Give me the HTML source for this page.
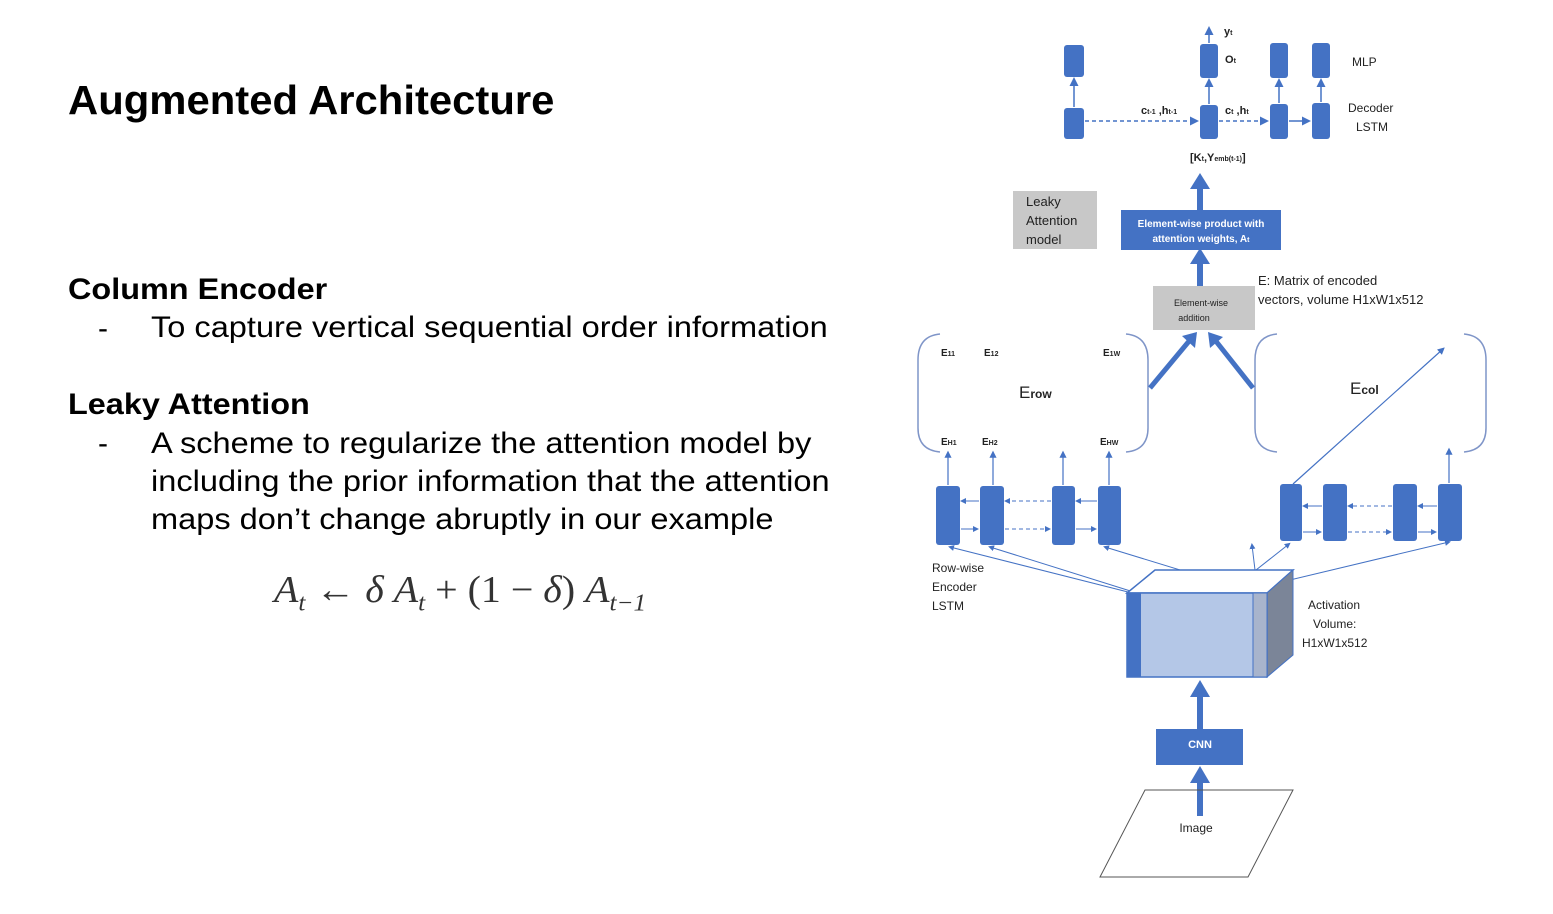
<!DOCTYPE html>
<html><head><meta charset="utf-8"><style>
html,body{margin:0;padding:0;background:#fff;}
body{width:1553px;height:914px;position:relative;overflow:hidden;font-family:"Liberation Sans",sans-serif;color:#000;}
.t{position:absolute;white-space:nowrap;transform-origin:0 0;}
</style></head><body>
<div class="t" style="left:68px;top:77px;font-size:41px;font-weight:bold;transform:scaleX(1.02);">Augmented Architecture</div>
<div class="t" style="left:68px;top:273px;font-size:30px;font-weight:bold;transform:scaleX(1.08);">Column Encoder</div>
<div class="t" style="left:98px;top:312px;font-size:30px;">-</div>
<div class="t" style="left:151px;top:311px;font-size:30px;transform:scaleX(1.085);">To capture vertical sequential order information</div>
<div class="t" style="left:68px;top:388px;font-size:30px;font-weight:bold;transform:scaleX(1.08);">Leaky Attention</div>
<div class="t" style="left:98px;top:427px;font-size:30px;">-</div>
<div class="t" style="left:151px;top:425px;font-size:30px;line-height:38px;transform:scaleX(1.085);">A scheme to regularize the attention model by<br>including the prior information that the attention<br>maps don’t change abruptly in our example</div>
<div class="t" style="left:274px;top:568px;font-size:38px;font-family:'Liberation Serif',serif;color:#333;transform:scaleX(1.05);"><i>A<sub style="font-size:24px">t</sub></i> ← <i>δ A<sub style="font-size:24px">t</sub></i> + (1 − <i>δ</i>) <i>A<sub style="font-size:24px">t−1</sub></i></div>

<svg width="1553" height="914" style="position:absolute;left:0;top:0" font-family="Liberation Sans, sans-serif">
<defs>
<marker id="b" markerWidth="6" markerHeight="6" refX="4" refY="3" orient="auto"><path d="M0,0 L6,3 L0,6 z" fill="#4472C4"/></marker>
</defs>
<g fill="#4472C4">
<rect x="1064" y="45" width="20" height="32" rx="3"/>
<rect x="1064" y="108" width="20" height="31" rx="3"/>
<rect x="1200" y="44" width="18" height="34" rx="3"/>
<rect x="1200" y="105" width="18" height="34" rx="3"/>
<rect x="1270" y="43" width="18" height="35" rx="3"/>
<rect x="1270" y="104" width="18" height="35" rx="3"/>
<rect x="1312" y="43" width="18" height="35" rx="3"/>
<rect x="1312" y="103" width="18" height="36" rx="3"/>
</g>
<g stroke="#4472C4" stroke-width="1.5" fill="none">
<line x1="1074" y1="107" x2="1074" y2="80" marker-end="url(#b)"/>
<line x1="1209" y1="104" x2="1209" y2="81" marker-end="url(#b)"/>
<line x1="1279" y1="103" x2="1279" y2="81" marker-end="url(#b)"/>
<line x1="1321" y1="102" x2="1321" y2="81" marker-end="url(#b)"/>
<line x1="1209" y1="43" x2="1209" y2="29" marker-end="url(#b)"/>
<line x1="1085" y1="121" x2="1196" y2="121" stroke-dasharray="4,3" marker-end="url(#b)"/>
<line x1="1219" y1="121" x2="1266" y2="121" stroke-dasharray="4,3" marker-end="url(#b)"/>
<line x1="1289" y1="121" x2="1308" y2="121" marker-end="url(#b)"/>
</g>
<g font-size="11" font-weight="bold" fill="#222">
<text x="1224" y="35">y<tspan font-size="7">t</tspan></text>
<text x="1225" y="63">O<tspan font-size="7">t</tspan></text>
<text x="1141" y="114">c<tspan font-size="7">t-1</tspan> ,h<tspan font-size="7">t-1</tspan></text>
<text x="1225" y="114">c<tspan font-size="7">t</tspan> ,h<tspan font-size="7">t</tspan></text>
<text x="1190" y="161">[K<tspan font-size="7">t</tspan>,Y<tspan font-size="7">emb(t-1)</tspan>]</text>
</g>
<g font-size="12" fill="#222">
<text x="1352" y="66">MLP</text>
<text x="1348" y="112">Decoder</text>
<text x="1356" y="131">LSTM</text>
</g>
<g fill="#4472C4">
<rect x="1197" y="186" width="6" height="25"/><path d="M1190,189 L1200,173 L1210,189 z"/>
<rect x="1197" y="262" width="6" height="25"/><path d="M1190,264 L1200,248 L1210,264 z"/>
<rect x="1121" y="210" width="160" height="40"/>
</g>
<text x="1201" y="227" font-size="10" fill="#fff" text-anchor="middle" font-weight="bold">Element-wise product with</text>
<text x="1201" y="242" font-size="10" fill="#fff" text-anchor="middle" font-weight="bold">attention weights, A<tspan font-size="7">t</tspan></text>
<rect x="1013" y="191" width="84" height="58" fill="#c8c8c8"/>
<text x="1026" y="206" font-size="13" fill="#222">Leaky</text>
<text x="1026" y="225" font-size="13" fill="#222">Attention</text>
<text x="1026" y="244" font-size="13" fill="#222">model</text>
<rect x="1153" y="286" width="102" height="44" fill="#c8c8c8"/>
<text x="1201" y="306" font-size="9" fill="#222" text-anchor="middle">Element-wise</text>
<text x="1194" y="321" font-size="9" fill="#222" text-anchor="middle">addition</text>
<text x="1258" y="285" font-size="13" fill="#222">E: Matrix of encoded</text>
<text x="1258" y="304" font-size="13" fill="#222">vectors, volume H1xW1x512</text>
<g stroke="#7f95c8" stroke-width="1.5" fill="none">
<path d="M940,334 Q918,336 918,360 L918,428 Q918,450 940,452"/>
<path d="M1126,334 Q1148,336 1148,360 L1148,428 Q1148,450 1126,452"/>
<path d="M1277,334 Q1255,336 1255,360 L1255,428 Q1255,450 1277,452"/>
<path d="M1464,334 Q1486,336 1486,360 L1486,428 Q1486,450 1464,452"/>
</g>
<g stroke="#4472C4" stroke-width="5" fill="none">
<line x1="1150" y1="388" x2="1190" y2="340"/>
<line x1="1253" y1="388" x2="1215" y2="340"/>
</g>
<g fill="#4472C4">
<path d="M1182,336 L1197,332 L1195,348 z"/>
<path d="M1208,332 L1223,337 L1210,348 z"/>
</g>
<g font-size="10" font-weight="bold" fill="#222">
<text x="941" y="356">E<tspan font-size="7">11</tspan></text>
<text x="984" y="356">E<tspan font-size="7">12</tspan></text>
<text x="1103" y="356">E<tspan font-size="7">1W</tspan></text>
<text x="941" y="445">E<tspan font-size="7">H1</tspan></text>
<text x="982" y="445">E<tspan font-size="7">H2</tspan></text>
<text x="1100" y="445">E<tspan font-size="7">HW</tspan></text>
</g>
<text x="1019" y="398" font-size="17" fill="#222">E<tspan font-size="12" font-weight="bold">row</tspan></text>
<text x="1350" y="394" font-size="17" fill="#222">E<tspan font-size="12" font-weight="bold">col</tspan></text>
<g fill="#4472C4">
<rect x="936" y="486" width="24" height="59" rx="3"/>
<rect x="980" y="486" width="24" height="59" rx="3"/>
<rect x="1052" y="486" width="23" height="59" rx="3"/>
<rect x="1098" y="486" width="23" height="59" rx="3"/>
<rect x="1280" y="484" width="22" height="57" rx="3"/>
<rect x="1323" y="484" width="24" height="57" rx="3"/>
<rect x="1393" y="484" width="24" height="57" rx="3"/>
<rect x="1438" y="484" width="24" height="57" rx="3"/>
</g>
<g stroke="#4472C4" stroke-width="1.2" fill="none">
<line x1="948" y1="485" x2="948" y2="453" marker-end="url(#b)"/>
<line x1="993" y1="485" x2="993" y2="453" marker-end="url(#b)"/>
<line x1="1063" y1="485" x2="1063" y2="453" marker-end="url(#b)"/>
<line x1="1109" y1="485" x2="1109" y2="453" marker-end="url(#b)"/>
<line x1="1449" y1="483" x2="1449" y2="450" marker-end="url(#b)"/>
<line x1="1293" y1="484" x2="1443" y2="349" marker-end="url(#b)"/>
<g stroke-width="1">
<line x1="979" y1="501" x2="962" y2="501" marker-end="url(#b)"/>
<line x1="1051" y1="501" x2="1006" y2="501" stroke-dasharray="4,3" marker-end="url(#b)"/>
<line x1="1097" y1="501" x2="1077" y2="501" marker-end="url(#b)"/>
<line x1="961" y1="529" x2="977" y2="529" marker-end="url(#b)"/>
<line x1="1005" y1="529" x2="1049" y2="529" stroke-dasharray="4,3" marker-end="url(#b)"/>
<line x1="1076" y1="529" x2="1095" y2="529" marker-end="url(#b)"/>
<line x1="1322" y1="506" x2="1304" y2="506" marker-end="url(#b)"/>
<line x1="1392" y1="506" x2="1349" y2="506" stroke-dasharray="4,3" marker-end="url(#b)"/>
<line x1="1437" y1="506" x2="1419" y2="506" marker-end="url(#b)"/>
<line x1="1303" y1="532" x2="1320" y2="532" marker-end="url(#b)"/>
<line x1="1348" y1="532" x2="1390" y2="532" stroke-dasharray="4,3" marker-end="url(#b)"/>
<line x1="1418" y1="532" x2="1435" y2="532" marker-end="url(#b)"/>
<line x1="1128" y1="592" x2="950" y2="547" marker-end="url(#b)"/>
<line x1="1140" y1="594" x2="990" y2="547" marker-end="url(#b)"/>
<line x1="1252" y1="592" x2="1105" y2="547" marker-end="url(#b)"/>
<line x1="1255" y1="570" x2="1252" y2="545" marker-end="url(#b)"/>
<line x1="1256" y1="570" x2="1289" y2="544" marker-end="url(#b)"/>
<line x1="1269" y1="585" x2="1449" y2="542" marker-end="url(#b)"/>
</g>
</g>
<path d="M1127,593 L1155,570 L1293,570 L1267,593 z" fill="#fff" stroke="#4472C4" stroke-width="1.5"/>
<path d="M1267,593 L1293,570 L1293,655 L1267,677 z" fill="#7b8598" stroke="#4472C4" stroke-width="1"/>
<rect x="1127" y="593" width="140" height="84" fill="#b4c7e7" stroke="#4472C4" stroke-width="1.5"/>
<rect x="1253" y="593" width="14" height="84" fill="#a8b4cc" stroke="#4472C4" stroke-width="1"/>
<rect x="1127" y="593" width="14" height="84" fill="#4472C4"/>
<g font-size="12" fill="#222">
<text x="1308" y="609">Activation</text>
<text x="1313" y="628">Volume:</text>
<text x="1302" y="647">H1xW1x512</text>
<text x="932" y="572">Row-wise</text>
<text x="932" y="591">Encoder</text>
<text x="932" y="610">LSTM</text>
</g>
<g fill="#4472C4">
<rect x="1197" y="693" width="6" height="37"/><path d="M1190,697 L1200,680 L1210,697 z"/>
<rect x="1197" y="780" width="6" height="36"/><path d="M1190,783 L1200,766 L1210,783 z"/>
<rect x="1156" y="729" width="87" height="36"/>
</g>
<text x="1200" y="748" font-size="11" fill="#fff" text-anchor="middle" font-weight="bold">CNN</text>
<path d="M1100,877 L1248,877 L1293,790 L1145,790 z" fill="none" stroke="#555" stroke-width="1"/>
<text x="1196" y="832" font-size="12" fill="#222" text-anchor="middle">Image</text>
</svg>
</body></html>
